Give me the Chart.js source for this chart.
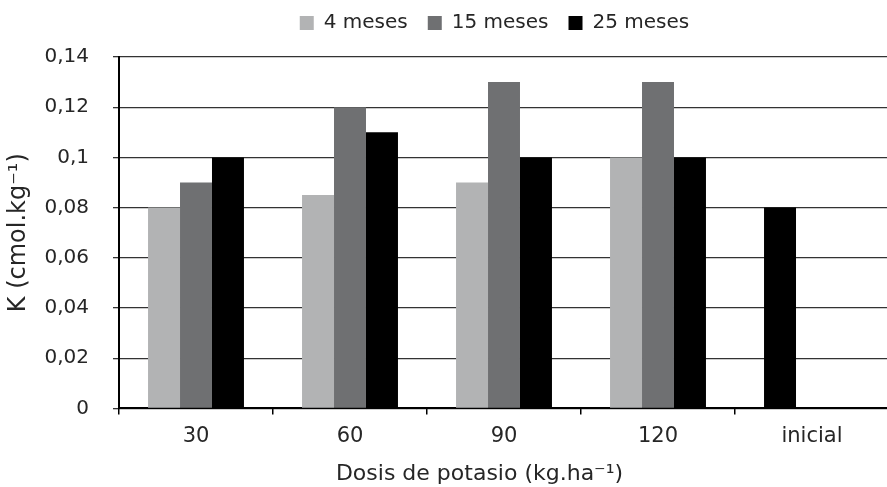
<!DOCTYPE html>
<html lang="es">
<head>
  <meta charset="UTF-8">
  <title>K por dosis de potasio</title>
  <script src="https://cdn.jsdelivr.net/npm/chart.js"></script>
  <style>
    html, body { margin: 0; padding: 0; background: #fff; overflow: hidden; }
    #wrap { position: relative; width: 900px; height: 487px; }
  </style>
</head>
<body>

<div id="wrap">
  <canvas id="grafico"></canvas>
</div>

<script>
  // === Datos ===
  const dosis = ["30", "60", "90", "120", "inicial"];
  const meses4  = [0.08, 0.085, 0.09, 0.10, null];
  const meses15 = [0.09, 0.12, 0.13, 0.13, null];
  const meses25 = [0.10, 0.11, 0.10, 0.10, null];
  const inicial = [null, null, null, null, 0.08];
  const ticksY = [0, 0.02, 0.04, 0.06, 0.08, 0.1, 0.12, 0.14];

  const fuente = "'DejaVu Sans', sans-serif";
  const texto = "#262626";

  // leyenda: margen inferior y desplazada como en el original
  const ajusteLeyenda = {
    id: "ajusteLeyenda",
    beforeInit(chart) {
      const fit = chart.legend.fit;
      chart.legend.fit = function () {
        fit.bind(chart.legend)();
        this.height += 5;
      };
    },
    afterLayout(chart) {
      const l = chart.legend;
      l.left += 50;
      l.right += 50;
      l.top -= 9;
      l.bottom -= 9;
    }
  };

  new Chart(document.getElementById("grafico"), {
    type: "bar",
    data: {
      labels: dosis,
      datasets: [
        { label: "4 meses",  data: meses4,  backgroundColor: "#b2b3b4", stack: "a" },
        { label: "15 meses", data: meses15, backgroundColor: "#6f7072", stack: "b" },
        { label: "25 meses", data: meses25, backgroundColor: "#000000", stack: "c" },
        { label: "inicial",  data: inicial, backgroundColor: "#000000", stack: "a" }
      ]
    },
    plugins: [ajusteLeyenda],
    options: {
      responsive: true,
      maintainAspectRatio: false,
      animation: false,
      layout: { padding: { top: 2, right: 11, bottom: 0, left: 0 } },
      datasets: { bar: { categoryPercentage: 0.623, barPercentage: 1 } },
      plugins: {
        tooltip: { enabled: false },
        legend: {
          position: "top",
          labels: {
            font: { family: fuente, size: 20 },
            color: texto,
            boxWidth: 14,
            boxHeight: 14,
            padding: 20,
            filter: (item) => item.text !== "inicial"
          }
        }
      },
      scales: {
        x: {
          stacked: true,
          border: { color: "#000", width: 2 },
          grid: { offset: true, drawOnChartArea: false, color: "#000", tickLength: 6, lineWidth: 1.5 },
          ticks: { font: { family: fuente, size: 21 }, color: texto, padding: 10 },
          title: {
            display: true,
            text: "Dosis de potasio (kg.ha⁻¹)\u00a0\u00a0\u00a0\u00a0\u00a0\u00a0\u00a0",
            font: { family: fuente, size: 22 },
            color: texto,
            padding: { top: 1, bottom: 0 }
          }
        },
        y: {
          stacked: true,
          min: 0,
          max: 0.14,
          afterBuildTicks: (scale) => { scale.ticks = ticksY.map(v => ({ value: v })); },
          afterFit: (scale) => { scale.width = 119; },
          border: { color: "#000", width: 2 },
          grid: { color: "#333", lineWidth: 1.3, tickLength: 6 },
          ticks: {
            font: { family: fuente, size: 20 },
            color: texto,
            padding: 24,
            callback: (v) => String(Math.round(v * 100) / 100).replace(".", ",")
          },
          title: {
            display: true,
            text: "K (cmol.kg⁻¹)",
            font: { family: fuente, size: 24 },
            color: texto,
            padding: { top: 4, bottom: 0 }
          }
        }
      }
    }
  });
</script>

</body>
</html>
